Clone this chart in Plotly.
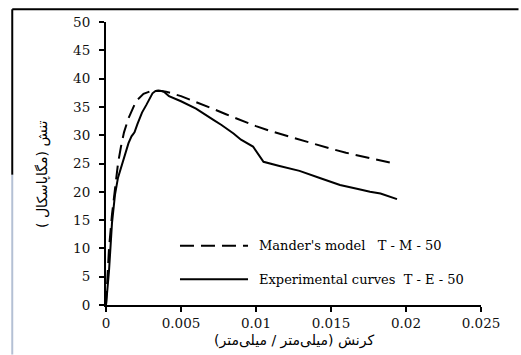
import plotly.graph_objects as go

# Mander's model T - M - 50 (dashed)
mander_strain = [0, 0.0002, 0.0004, 0.0006, 0.0008, 0.001, 0.0012, 0.0015, 0.002, 0.0025,
                 0.003, 0.0035, 0.004, 0.005, 0.006, 0.007, 0.008, 0.009, 0.010, 0.011,
                 0.012, 0.013, 0.014, 0.015, 0.016, 0.017, 0.018, 0.0192]
mander_stress = [0, 10, 16, 21, 25, 28, 30.5, 33, 36, 37.3,
                 37.8, 37.9, 37.7, 36.9, 35.9, 34.8, 33.7, 32.6, 31.6, 30.7,
                 29.9, 29.1, 28.3, 27.6, 26.9, 26.3, 25.7, 25.0]

# Experimental curves T - E - 50 (solid)
exp_strain = [0, 0.0002, 0.0004, 0.0006, 0.0008, 0.00105, 0.0013, 0.0015, 0.0017, 0.0019,
              0.0021, 0.0024, 0.0027, 0.0029, 0.0031, 0.0033, 0.0037, 0.0039, 0.0042, 0.005,
              0.006, 0.00716, 0.0077, 0.0085, 0.009, 0.0098, 0.0105, 0.0115, 0.0129, 0.0143,
              0.0156, 0.0168, 0.0176, 0.0183, 0.0194]
exp_stress = [0, 6, 14.5, 19.5, 22.5, 24.6, 27, 28.6, 29.8, 30.5,
              32, 34, 35.4, 36.3, 37.4, 37.8, 37.8, 37.6, 36.9, 36.0,
              34.7, 32.7, 31.8, 30.3, 29.2, 28.0, 25.3, 24.6, 23.7, 22.4,
              21.2, 20.5, 20.0, 19.7, 18.7]

legend_names = ["Mander's model   T - M - 50", "Experimental curves  T - E - 50"]
x_title = "کرنش (میلی‌متر / میلی‌متر)"
y_title = "تنش (مگاپاسکال )"

DASH = "14px,7px"

fig = go.Figure()
fig.add_trace(go.Scatter(x=mander_strain, y=mander_stress, mode="lines",
                         name=legend_names[0],
                         line=dict(color="black", width=2, dash=DASH)))
fig.add_trace(go.Scatter(x=exp_strain, y=exp_stress, mode="lines",
                         name=legend_names[1],
                         line=dict(color="black", width=2)))

tickfont = dict(family="DejaVu Serif", size=13.5, color="#111")

fig.update_layout(
    width=521, height=355,
    margin=dict(l=106, r=40, t=22, b=50),
    paper_bgcolor="white", plot_bgcolor="white",
    showlegend=False,
    xaxis=dict(range=[0, 0.025], dtick=0.005, tick0=0, showgrid=False, zeroline=False,
               showline=True, linecolor="black", linewidth=2,
               ticks="outside", ticklen=5, tickwidth=1.5, tickcolor="black",
               tickfont=tickfont),
    yaxis=dict(range=[0, 50], dtick=5, tick0=0, showgrid=False, zeroline=False,
               showline=True, linecolor="black", linewidth=2,
               ticks="outside", ticklen=5, tickwidth=1.5, tickcolor="black",
               tickfont=tickfont, ticklabelstandoff=6),
)

# outer frame (top and left edges)
fig.add_shape(type="line", xref="paper", yref="paper", x0=-0.25, x1=1.1,
              y0=1.045, y1=1.045, line=dict(color="black", width=2))
fig.add_shape(type="line", xref="paper", yref="paper", x0=-0.25, x1=-0.25,
              y0=1.045, y1=0.46, line=dict(color="black", width=2))
fig.add_shape(type="line", xref="paper", yref="paper", x0=-0.25, x1=-0.25,
              y0=0.46, y1=-0.175, line=dict(color="#b4c0d4", width=2))

# axis titles
fig.add_annotation(text=x_title, xref="paper", yref="paper", x=0.50, y=-0.127,
                   xanchor="center", yanchor="middle", showarrow=False,
                   font=dict(family="DejaVu Sans", size=14, color="black"))
fig.add_annotation(text=y_title, xref="paper", yref="paper", x=-0.168, y=0.463,
                   xanchor="center", yanchor="middle", showarrow=False, textangle=-90,
                   font=dict(family="DejaVu Sans", size=14, color="black"))

# legend drawn in plot
leg_y = [0.2095, 0.0908]
leg_dash = [DASH, "solid"]
for name, yy, dsh in zip(legend_names, leg_y, leg_dash):
    fig.add_shape(type="line", xref="paper", yref="paper", x0=0.1973, x1=0.3787,
                  y0=yy, y1=yy, line=dict(color="black", width=2, dash=dsh))
    fig.add_annotation(text=name, xref="paper", yref="paper", x=0.4027, y=yy,
                       xanchor="left", yanchor="middle", showarrow=False,
                       font=dict(family="DejaVu Serif", size=13, color="black"))

fig.write_html("out.html")
